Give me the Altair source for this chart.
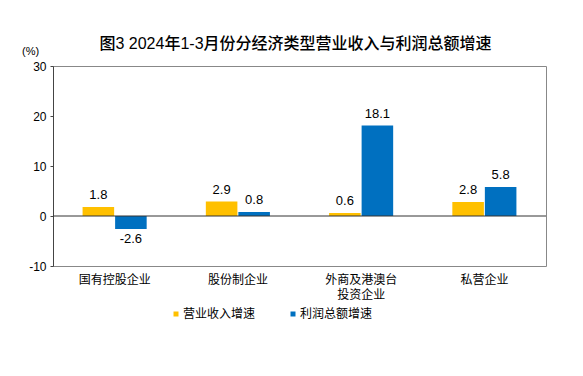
import altair as alt
import pandas as pd

categories = ["国有控股企业", "股份制企业", "外商及港澳台|投资企业", "私营企业"]
series = ["营业收入增速", "利润总额增速"]
revenue = [1.8, 2.9, 0.6, 2.8]
profit = [-2.6, 0.8, 18.1, 5.8]
colors = ["#FFC000", "#0070C0"]

rows = []
for i, c in enumerate(categories):
    rows.append({"cat": c, "s": series[0], "v": revenue[i]})
    rows.append({"cat": c, "s": series[1], "v": profit[i]})
df = pd.DataFrame(rows)

FONT = "'Liberation Sans', Arial, 'Noto Sans CJK SC'"

x = alt.X("cat:N", sort=categories, title=None,
          scale=alt.Scale(paddingInner=0.48, paddingOuter=0.24),
          axis=alt.Axis(labelExpr="split(datum.value, '|')", labelAngle=0,
                        domain=False, ticks=False, labelPadding=8,
                        labelFontSize=12, labelColor="#000", labelFont=FONT,
                        labelLineHeight=15))
y = alt.Y("v:Q", title=None,
          scale=alt.Scale(domain=[-10, 30], nice=False),
          axis=alt.Axis(values=[-10, 0, 10, 20, 30], grid=False, tickSize=3,
                        labelExpr="toString(datum.value)",
                        domainColor="#444", tickColor="#444", labelFontSize=12,
                        labelColor="#000", labelFont=FONT, labelPadding=4))
xo = alt.XOffset("s:N", sort=series, scale=alt.Scale(paddingInner=0.03))
color = alt.Color("s:N", sort=series,
                  scale=alt.Scale(domain=series, range=colors),
                  legend=alt.Legend(title=None, orient="none", direction="horizontal",
                                    legendX=117, legendY=242, symbolType="square",
                                    symbolSize=25, symbolStrokeWidth=0,
                                    labelFontSize=12, labelFont=FONT, labelColor="#000",
                                    columnPadding=31, symbolOffset=0, labelOffset=1))

base = alt.Chart(df).transform_calculate(lbl="toString(datum.v)")

bars = base.mark_bar().encode(x=x, xOffset=xo, y=y, color=color)

pos = base.transform_filter("datum.v >= 0").mark_text(
    baseline="bottom", dy=-5, fontSize=13, font=FONT, color="#000"
).encode(x=x, xOffset=xo, y=y, text="lbl:N")
neg = base.transform_filter("datum.v < 0").mark_text(
    baseline="top", dy=4, fontSize=13, font=FONT, color="#000"
).encode(x=x, xOffset=xo, y=y, text="lbl:N")

zero = alt.Chart(pd.DataFrame({"z": [0]})).mark_rule(color="#333", strokeWidth=1).encode(y="z:Q")

pct = alt.Chart(pd.DataFrame({"t": ["(%)"]})).mark_text(
    fontSize=11, font=FONT, color="#000", align="left", baseline="middle"
).encode(text="t:N", x=alt.value(-31), y=alt.value(-14))

chart = alt.layer(bars, zero, pos, neg, pct).properties(
    width=493, height=200,
    padding={"left": 53, "top": 66, "right": 37, "bottom": 110},
    autosize=alt.AutoSizeParams(type="none"),
    title=alt.TitleParams("图3  2024年1-3月份分经济类型营业收入与利润总额增速",
                          fontSize=16, font=FONT, fontWeight=500, color="#000",
                          anchor="middle", offset=-6, dx=-4),
).configure_view(stroke="#888", strokeWidth=1)

chart.save("out.html", embed_options={"renderer": "svg", "actions": False})
